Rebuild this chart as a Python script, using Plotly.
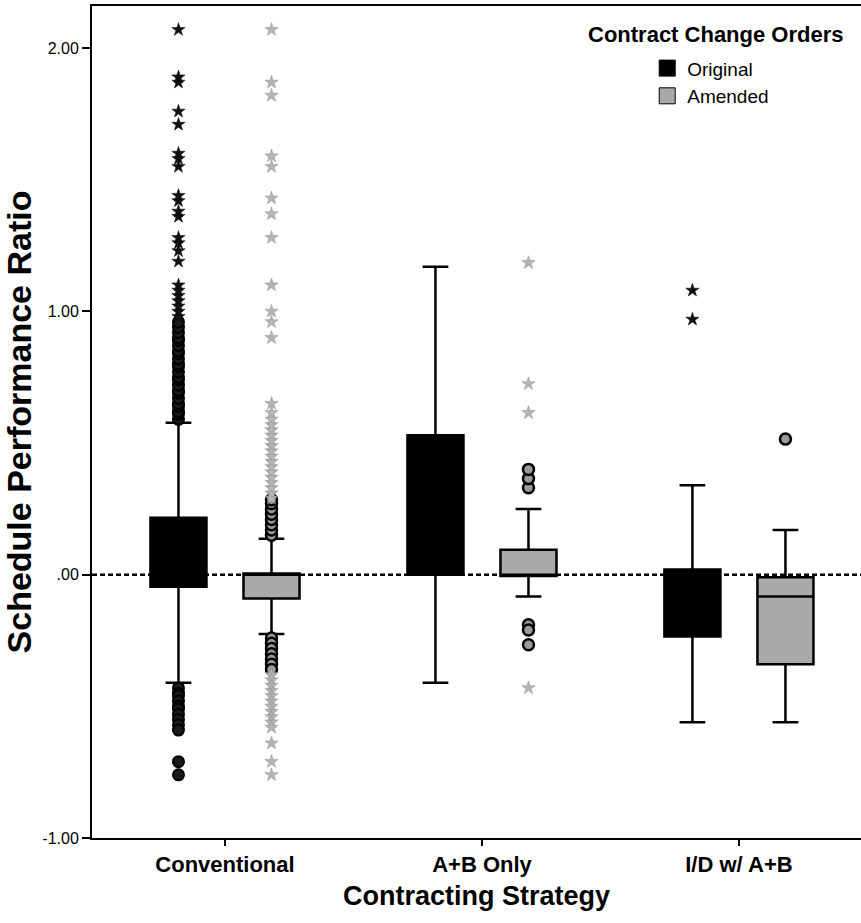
import plotly.graph_objects as go

# ---------------- data ----------------
categories = ["Conventional", "A+B Only", "I/D w/ A+B"]
series_names = ["Original", "Amended"]

orig_q1 = [-0.046, 0.00, -0.235]
orig_median = [0.05, 0.16, -0.10]
orig_q3 = [0.216, 0.53, 0.02]
orig_low = [-0.41, -0.41, -0.56]
orig_high = [0.577, 1.17, 0.34]

amend_q1 = [-0.09, -0.005, -0.34]
amend_median = [0.0, 0.0, -0.083]
amend_q3 = [0.005, 0.095, -0.01]
amend_low = [-0.225, -0.083, -0.56]
amend_high = [0.137, 0.25, 0.17]

# outliers (circles) and extremes (stars), per category
orig_circles = [
    [0.59, 0.61, 0.62, 0.64, 0.65, 0.67, 0.69, 0.70, 0.72, 0.74, 0.75, 0.77,
     0.79, 0.80, 0.82, 0.84, 0.85, 0.87, 0.89, 0.90, 0.92, 0.94, 0.96,
     -0.43, -0.45, -0.46, -0.48, -0.50, -0.51, -0.53, -0.55, -0.57, -0.59,
     -0.71, -0.76],
    [],
    [],
]
orig_stars = [
    [0.98, 1.00, 1.02, 1.04, 1.06, 1.08, 1.10, 1.19, 1.23, 1.26, 1.28,
     1.36, 1.38, 1.42, 1.44, 1.55, 1.58, 1.60, 1.71, 1.76, 1.87, 1.89, 2.07],
    [],
    [0.97, 1.08],
]
amend_circles = [
    [0.15, 0.17, 0.19, 0.21, 0.23, 0.25, 0.27, 0.285,
     -0.24, -0.26, -0.28, -0.30, -0.32, -0.34, -0.36],
    [0.33, 0.365, 0.40, -0.19, -0.21, -0.266],
    [0.515],
]
amend_stars = [
    [0.29, 0.31, 0.33, 0.35, 0.37, 0.39, 0.41, 0.43, 0.45, 0.47, 0.49, 0.51,
     0.53, 0.55, 0.57, 0.59, 0.615, 0.65, 0.90, 0.96, 1.00, 1.10, 1.28, 1.37,
     1.43, 1.55, 1.59, 1.82, 1.87, 2.07,
     -0.38, -0.40, -0.42, -0.44, -0.46, -0.48, -0.50, -0.52, -0.54, -0.56,
     -0.58, -0.64, -0.71, -0.76],
    [1.185, 0.725, 0.615, -0.43],
    [],
]

y_tickvals = [-1, 0, 1, 2]
y_ticktext = ["-1.00", ".00", "1.00", "2.00"]

# ---------------- style ----------------
FONT = "Liberation Sans, Arial, sans-serif"
ORIG_COLOR = "#000000"
AMEND_COLOR = "#a9a9a9"
AMEND_STAR = "#b4b4b4"
GROUP_OFFSET = 0.181
BOX_WIDTH = 0.218

positions = list(range(len(categories)))
orig_x = [p - GROUP_OFFSET for p in positions]
amend_x = [p + GROUP_OFFSET for p in positions]

fig = go.Figure()

fig.add_trace(go.Box(
    x=orig_x, q1=orig_q1, median=orig_median, q3=orig_q3,
    lowerfence=orig_low, upperfence=orig_high,
    width=BOX_WIDTH, whiskerwidth=0.46, boxpoints=False,
    fillcolor=ORIG_COLOR, line=dict(color="#000000", width=2.5),
    name="Original", showlegend=False, hoverinfo="skip",
))
fig.add_trace(go.Box(
    x=amend_x, q1=amend_q1, median=amend_median, q3=amend_q3,
    lowerfence=amend_low, upperfence=amend_high,
    width=BOX_WIDTH, whiskerwidth=0.46, boxpoints=False,
    fillcolor=AMEND_COLOR, line=dict(color="#000000", width=2.5),
    name="Amended", showlegend=False, hoverinfo="skip",
))


def flatten(xs, groups):
    px, py = [], []
    for x, vals in zip(xs, groups):
        for v in vals:
            px.append(x)
            py.append(v)
    return px, py


cx, cy = flatten(orig_x, orig_circles)
fig.add_trace(go.Scatter(x=cx, y=cy, mode="markers", showlegend=False, hoverinfo="skip",
                         marker=dict(symbol="circle", size=11, color="#1a1a1a",
                                     line=dict(color="#000000", width=2))))
sx, sy = flatten(orig_x, orig_stars)
fig.add_trace(go.Scatter(x=sx, y=sy, mode="markers", showlegend=False, hoverinfo="skip",
                         marker=dict(symbol="star", size=10, color="#111111",
                                     line=dict(color="#000000", width=0.5))))
cx, cy = flatten(amend_x, amend_circles)
fig.add_trace(go.Scatter(x=cx, y=cy, mode="markers", showlegend=False, hoverinfo="skip",
                         marker=dict(symbol="circle", size=11, color="#9a9a9a",
                                     line=dict(color="#000000", width=2.5))))
sx, sy = flatten(amend_x, amend_stars)
fig.add_trace(go.Scatter(x=sx, y=sy, mode="markers", showlegend=False, hoverinfo="skip",
                         marker=dict(symbol="star", size=10, color=AMEND_STAR,
                                     line=dict(color="#8c8c8c", width=0.5))))

# legend entries
for nm, col in zip(series_names, [ORIG_COLOR, AMEND_COLOR]):
    fig.add_trace(go.Scatter(x=[None], y=[None], mode="markers", name=nm,
                             marker=dict(symbol="square", size=16, color=col,
                                         line=dict(color="#000000", width=1))))

fig.add_shape(type="line", xref="paper", x0=0, x1=1, yref="y", y0=0, y1=0,
              line=dict(color="#000000", width=2.5, dash="5px,3px"), layer="below")

fig.add_annotation(text="<b>Contract Change Orders</b>", xref="paper", yref="paper",
                   x=0.811, y=0.966, xanchor="center", yanchor="middle", showarrow=False,
                   font=dict(family=FONT, size=22, color="#000000"))

fig.update_layout(
    width=861, height=923,
    margin=dict(l=92, r=0, t=6, b=85),
    paper_bgcolor="white", plot_bgcolor="white",
    font=dict(family=FONT, color="#000000"),
    legend=dict(x=0.722, y=0.948, xanchor="left", yanchor="top",
                font=dict(family=FONT, size=19), bgcolor="rgba(0,0,0,0)",
                tracegroupgap=0, itemsizing="trace"),
    xaxis=dict(range=[-0.5175, 2.475], tickvals=positions, ticktext=categories,
               showline=True, linecolor="#000000", linewidth=2, mirror=True,
               ticks="outside", ticklen=6, tickwidth=2, tickcolor="#000000",
               showgrid=False, zeroline=False,
               tickfont=dict(family=FONT, size=22, color="#000000", weight="bold"),
               title=dict(text="<b>Contracting Strategy</b>", standoff=10,
                          font=dict(family=FONT, size=27, color="#000000"))),
    yaxis=dict(range=[-1.0, 2.16], tickvals=y_tickvals, ticktext=y_ticktext,
               showline=True, linecolor="#000000", linewidth=2,
               ticks="outside", ticklen=8, tickwidth=2, tickcolor="#000000",
               showgrid=False, zeroline=False,
               tickfont=dict(family=FONT, size=16, color="#000000"),
               title=dict(text="<b>Schedule Performance Ratio</b>", standoff=4,
                          font=dict(family=FONT, size=34, color="#000000"))),
)

fig.write_html("out.html")
